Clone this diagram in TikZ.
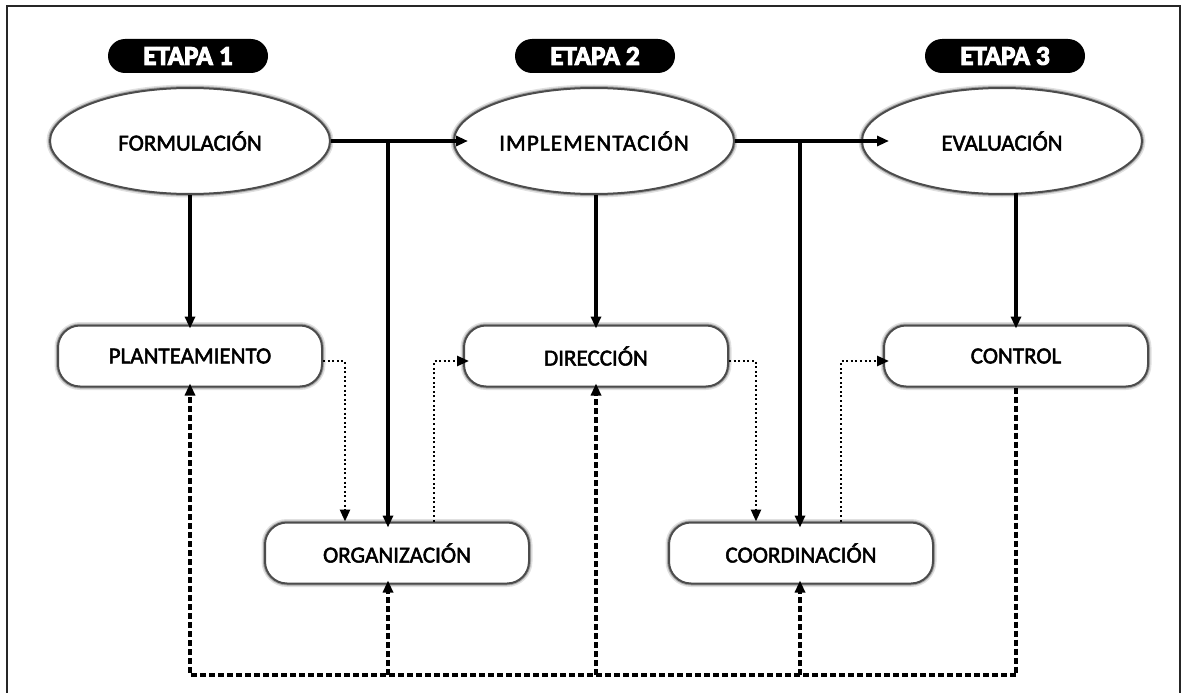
\documentclass[tikz,border=0pt]{standalone}
\usepackage{fontspec}
\setmainfont{Carlito}
\newfontfamily\labelfont[FakeBold=2.2]{Carlito}
\newfontfamily\badgefont[FakeBold=4]{Carlito Bold}
\usetikzlibrary{arrows.meta,shapes.geometric,calc}
\begin{document}
\begin{tikzpicture}[x=1pt,y=-1pt,
  softedge/.style={preaction={draw=black!12,line width=7pt},
                   preaction={draw=black!35,line width=4pt},
                   draw=black!70,line width=2pt,fill=white},
  stage/.style={ellipse,softedge,minimum width=280pt,minimum height=106pt,
                inner sep=0pt,font=\labelfont\fontsize{23}{23}\selectfont},
  task/.style={rectangle,rounded corners=22pt,softedge,minimum width=264pt,
               minimum height=61pt,inner sep=0pt,font=\labelfont\fontsize{23}{23}\selectfont},
  badge/.style={rectangle,rounded corners=17pt,fill=black,text=white,
                minimum width=160pt,minimum height=34pt,inner sep=0pt,
                font=\badgefont\fontsize{27}{27}\selectfont},
  tip/.style={-{Triangle[length=12pt,width=10pt]}},
  mainflow/.style={line width=3.6pt,tip},
  sideflow/.style={line width=2.6pt,dash pattern=on 2pt off 2.6pt,tip},
  feedback/.style={line width=3.2pt,dash pattern=on 6pt off 3pt},
  feedbackarrow/.style={feedback,tip}]
\useasboundingbox (0,0) rectangle (1184,693);
% outer frame, open at the bottom
\draw[line width=1.2pt,black!85] (7,693) -- (7,6) -- (1180,6) -- (1180,693);

% stage badges
\node[badge] (b1) at (188,56) {ETAPA 1};
\node[badge] (b2) at (595,56) {ETAPA 2};
\node[badge] (b3) at (1005,56) {ETAPA 3};

% stages
\node[stage] (form) at (190,141) {FORMULACIÓN};
\node[stage] (impl) at (594,141) {\addfontfeature{LetterSpace=5}IMPLEMENTACIÓN};
\node[stage] (eval) at (1002,141) {EVALUACIÓN};

% tasks
\node[task] (plan)  at (190,356) {PLANTEAMIENTO};
\node[task] (dir)   at (596,356) {DIRECCIÓN};
\node[task] (ctrl)  at (1016,356) {CONTROL};
\node[task] (org)   at (397,553) {ORGANIZACIÓN};
\node[task] (coord) at (801,553) {COORDINACIÓN};

% junctions of the main flow
\coordinate (j1) at (388,141);
\coordinate (j2) at (800,141);
\coordinate (base) at (0,675);

% main flow
\draw[mainflow] (form.east) -- ($(impl.west)+(15,0)$);
\draw[mainflow] (impl.east) -- ($(eval.west)+(28,0)$);
\draw[mainflow] (j1) -- ($(org.north -| j1)+(0,6)$);
\draw[mainflow] (j2) -- ($(coord.north -| j2)+(0,6)$);
\draw[mainflow] (plan.north |- form.south) -- ($(plan.north)+(0,4)$);
\draw[mainflow] (dir.north |- impl.south) -- ($(dir.north)+(0,4)$);
\draw[mainflow] ($(ctrl.north |- eval.south)+(0,-2)$) -- ($(ctrl.north)+(0,4)$);

% lateral links
\draw[sideflow] ([yshift=-5pt]plan.east) -| ([xshift=-52pt]org.north);
\draw[sideflow] ([xshift=37pt]org.north) |- ($([yshift=-5pt]dir.west)+(6,0)$);
\draw[sideflow] ([yshift=-5pt]dir.east) -| ([xshift=-45pt]coord.north);
\draw[sideflow] ([xshift=40pt]coord.north) |- ($([yshift=-5pt]ctrl.west)+(6,0)$);

% feedback loop
\draw[feedbackarrow] (ctrl.south) |- (base -| plan.south) -- ($(plan.south)+(0,-4)$);
\draw[feedbackarrow] (base -| j1) -- ($(org.south -| j1)+(0,-4)$);
\draw[feedbackarrow] (base -| dir.south) -- ($(dir.south)+(0,-4)$);
\draw[feedbackarrow] (base -| j2) -- ($(coord.south -| j2)+(0,-4)$);
\end{tikzpicture}
\end{document}
